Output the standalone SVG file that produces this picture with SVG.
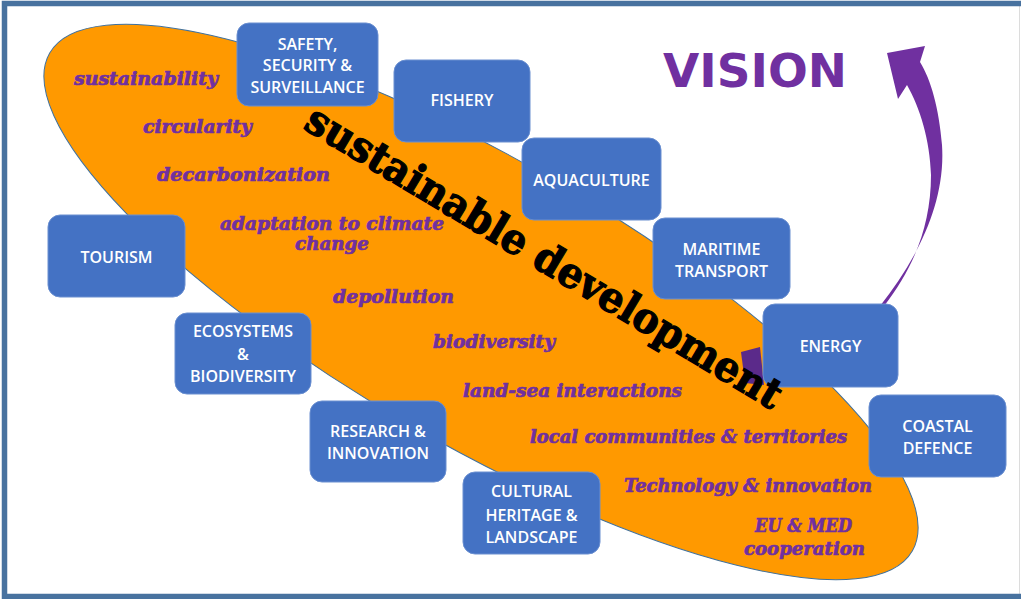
<svg xmlns="http://www.w3.org/2000/svg" width="1021" height="599" viewBox="0 0 1021 599">
<style>
.box rect{fill:#4472c4;stroke:#6a8fd0;stroke-width:1}
.box text{font-family:"Open Sans","DejaVu Sans",sans-serif;font-weight:600;font-size:16px;fill:#ffffff;text-anchor:middle}
.term{font-family:"DejaVu Serif",serif;font-weight:bold;font-style:italic;font-size:18px;fill:#7030a0;stroke:#7030a0;stroke-width:0.7}
</style>
<rect x="0" y="0" width="1021" height="599" fill="#ffffff"/>
<g id="frame">
<line x1="1019.5" y1="6" x2="1019.5" y2="594" stroke="#dcdcdc" stroke-width="1"/>
<path d="M1021,3.5 H4.5 V596.5 H1021" fill="none" stroke="#48729f" stroke-width="5.5"/>
</g>
<g id="ellipse">
<ellipse cx="481" cy="302" rx="498" ry="142" transform="rotate(30 481 302)" fill="#ff9900" stroke="#41719c" stroke-width="1"/>
</g>
<g id="terms">
<text class="term" x="74" y="85" textLength="144" lengthAdjust="spacingAndGlyphs">sustainability</text>
<text class="term" x="143" y="133" textLength="109" lengthAdjust="spacingAndGlyphs">circularity</text>
<text class="term" x="157" y="181" textLength="173" lengthAdjust="spacingAndGlyphs">decarbonization</text>
<text class="term" x="220" y="230" textLength="224" lengthAdjust="spacingAndGlyphs">adaptation to climate</text>
<text class="term" x="295" y="250" textLength="74" lengthAdjust="spacingAndGlyphs">change</text>
<text class="term" x="333" y="303" textLength="121" lengthAdjust="spacingAndGlyphs">depollution</text>
<text class="term" x="433" y="348" textLength="122" lengthAdjust="spacingAndGlyphs">biodiversity</text>
<text class="term" x="463" y="397" textLength="219" lengthAdjust="spacingAndGlyphs">land-sea interactions</text>
<text class="term" x="530" y="443" textLength="317" lengthAdjust="spacingAndGlyphs">local communities &amp; territories</text>
<text class="term" x="624" y="492" textLength="248" lengthAdjust="spacingAndGlyphs">Technology &amp; innovation</text>
<text class="term" x="755" y="532" textLength="97" lengthAdjust="spacingAndGlyphs">EU &amp; MED</text>
<text class="term" x="744" y="555" textLength="121" lengthAdjust="spacingAndGlyphs">cooperation</text>
</g>
<g id="connectors">
<path d="M880,306 C915,262 946,205 942,145 C939,108 931,80 920,62 L925,46 L887,53 L898,99 L907,85 C920,108 930,140 931,175 C931,228 912,270 884,306 Z" fill="#7030a0"/>
<polygon points="741,352 760,347 764,385 745,383" fill="#5b2a8a"/>
</g>
<g id="vision">
<text x="663" y="87" font-family="'DejaVu Sans',sans-serif" font-weight="bold" font-size="47" fill="#7030a0" textLength="184" lengthAdjust="spacingAndGlyphs">VISION</text>
</g>
<g id="node-safety" class="box"><rect x="237" y="23" width="141" height="83" rx="12"/><text x="307.5" y="50">SAFETY,</text><text x="307.5" y="71">SECURITY &amp;</text><text x="307.5" y="93">SURVEILLANCE</text></g>
<g id="node-fishery" class="box"><rect x="394" y="60" width="136" height="82" rx="12"/><text x="462" y="106">FISHERY</text></g>
<g id="node-aquaculture" class="box"><rect x="522" y="138" width="139" height="82" rx="12"/><text x="591.5" y="186">AQUACULTURE</text></g>
<g id="node-maritime" class="box"><rect x="653" y="218" width="137" height="81" rx="12"/><text x="721.5" y="255">MARITIME</text><text x="721.5" y="277">TRANSPORT</text></g>
<g id="node-energy" class="box"><rect x="763" y="304" width="135" height="83" rx="12"/><text x="830.5" y="352">ENERGY</text></g>
<g id="node-coastal" class="box"><rect x="869" y="395" width="137" height="82" rx="12"/><text x="937.5" y="432">COASTAL</text><text x="937.5" y="454">DEFENCE</text></g>
<g id="node-cultural" class="box"><rect x="463" y="472" width="137" height="82" rx="12"/><text x="531.5" y="497">CULTURAL</text><text x="531.5" y="521">HERITAGE &amp;</text><text x="531.5" y="543">LANDSCAPE</text></g>
<g id="node-research" class="box"><rect x="310" y="401" width="136" height="81" rx="12"/><text x="378" y="437">RESEARCH &amp;</text><text x="378" y="459">INNOVATION</text></g>
<g id="node-tourism" class="box"><rect x="48" y="215" width="137" height="82" rx="12"/><text x="116.5" y="263">TOURISM</text></g>
<g id="node-ecosystems" class="box"><rect x="175" y="313" width="136" height="81" rx="12"/><text x="243" y="337">ECOSYSTEMS</text><text x="243" y="360">&amp;</text><text x="243" y="382">BIODIVERSITY</text></g>
<g id="title">
<text x="302" y="128" transform="rotate(31 302 128)" font-family="'DejaVu Serif',serif" font-weight="bold" font-size="42" fill="#000000" stroke="#000000" stroke-width="1.2" textLength="548" lengthAdjust="spacingAndGlyphs">sustainable development</text>
</g>
</svg>
